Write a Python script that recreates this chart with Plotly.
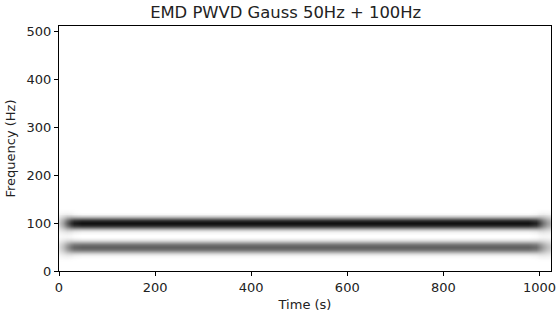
import numpy as np
import plotly.graph_objects as go

# ---- data ----
title_text = "EMD PWVD Gauss 50Hz + 100Hz"
band_freqs = [50, 100]            # Hz
band_peaks = [0.62, 0.93]         # darkness at band centre (0 white .. 1 black)

# darkness profile across frequency (distance from band centre, Hz)
profile_offsets = [0, 2, 4, 6, 8, 10, 12, 14, 16, 18, 20, 24, 28, 32]
core_profile    = [1.0, 0.97, 0.91, 0.81, 0.66, 0.5, 0.34, 0.21, 0.12, 0.06, 0.03, 0.0, 0.0, 0.0]
edge_profile    = [1.0, 0.98, 0.93, 0.86, 0.76, 0.65, 0.54, 0.43, 0.33, 0.25, 0.18, 0.08, 0.03, 0.0]

# time knots (s) with band gain and edge-spread weight
time_knots  = [0, 8, 16, 24, 32, 48, 64, 960, 976, 992, 1000, 1008, 1016, 1024]
time_gain   = [0.22, 0.4, 0.65, 0.85, 0.95, 1.0, 1.0, 1.0, 1.0, 0.92, 0.78, 0.58, 0.42, 0.32]
time_spread = [1.0, 0.85, 0.6, 0.35, 0.15, 0.0, 0.0, 0.0, 0.0, 0.15, 0.4, 0.7, 0.9, 1.0]

freq_grid = list(range(0, 514, 2))

x_ticks = [0, 200, 400, 600, 800, 1000]
y_ticks = [0, 100, 200, 300, 400, 500]

# ---- build the matrix from the lists ----
f = np.array(freq_grid, dtype=float)
z = np.zeros((len(freq_grid), len(time_knots)))
for j in range(len(time_knots)):
    g, w = time_gain[j], time_spread[j]
    for fb, pk in zip(band_freqs, band_peaks):
        d = np.abs(f - fb)
        core = np.interp(d, profile_offsets, core_profile, right=0.0)
        edge = np.interp(d, profile_offsets, edge_profile, right=0.0)
        z[:, j] += pk * g * ((1 - w) * core + w * edge)
z = np.clip(z, 0, 1)

fig = go.Figure(go.Heatmap(
    x=time_knots, y=freq_grid, z=z,
    colorscale=[[0, "#ffffff"], [1, "#000000"]],
    zmin=0, zmax=1, zsmooth="best", showscale=False,
    hoverinfo="skip",
))

font = "DejaVu Sans"
axis_common = dict(
    showline=True, linecolor="#000000", linewidth=1, mirror=True,
    ticks="outside", ticklen=4, tickwidth=1, tickcolor="#000000",
    showgrid=False, zeroline=False, automargin=False,
    tickfont=dict(family=font, size=13, color="#222222"),
    title_font=dict(family=font, size=13, color="#222222"),
)
fig.update_layout(
    width=559, height=318,
    margin=dict(l=59, r=8, t=26, b=47),
    paper_bgcolor="white", plot_bgcolor="white",
    title=dict(text=title_text, xref="container", x=0.511, xanchor="center",
               yref="container", y=1 - 12.5 / 318, yanchor="middle",
               font=dict(family=font, size=16.4, color="#222222")),
    xaxis=dict(range=[0, 1024], tickvals=x_ticks, title=dict(text="Time (s)", standoff=6), **axis_common),
    yaxis=dict(range=[0, 512], tickvals=y_ticks, title=dict(text="Frequency (Hz)", standoff=8), **axis_common),
)
fig.write_html("out.html", config={"displayModeBar": False},
               post_script="document.body.style.margin='0';")
